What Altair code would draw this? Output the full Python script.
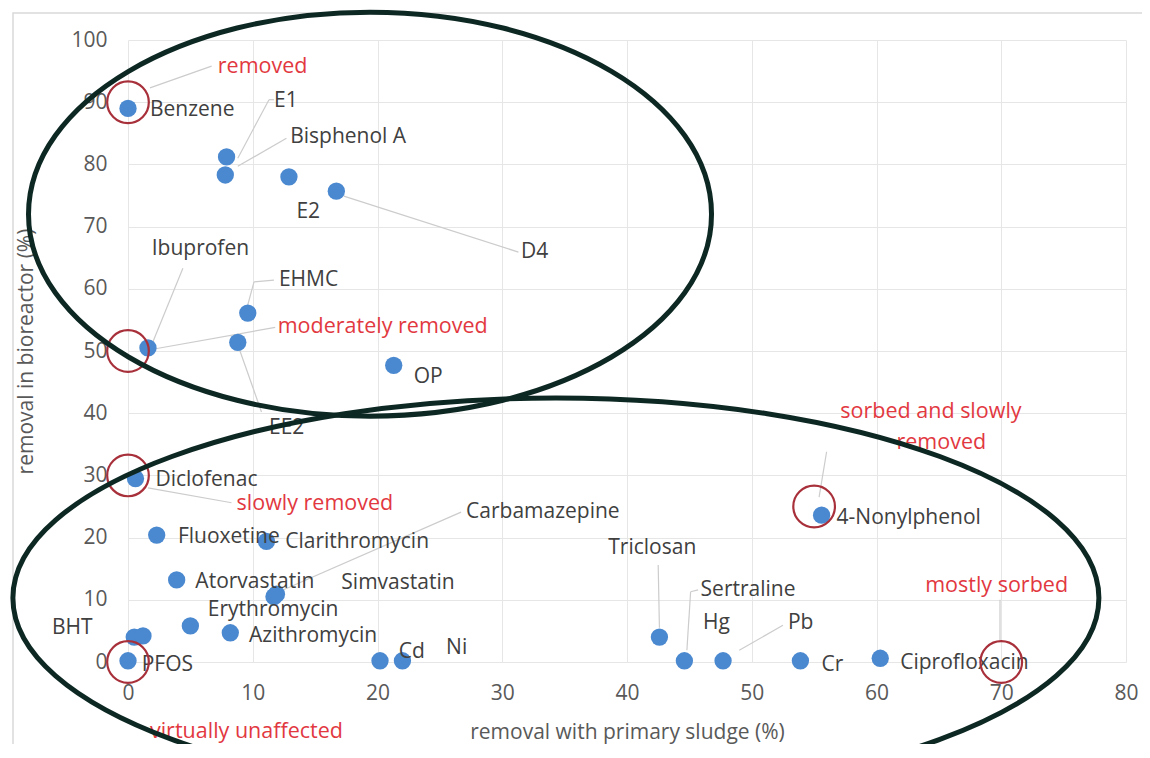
import altair as alt
import pandas as pd

# ---- data ----
point_names = ["Benzene", "E1", "Bisphenol A", "E2", "D4", "EHMC", "EE2", "Ibuprofen", "OP",
               "Diclofenac", "Fluoxetine", "Clarithromycin", "Atorvastatin", "Simvastatin",
               "Carbamazepine", "Erythromycin", "Azithromycin", "BHT", "BHT b", "PFOS", "Cd", "Ni",
               "Triclosan", "Sertraline", "Pb", "Cr", "Ciprofloxacin", "4-Nonylphenol"]
point_x = [0.0, 7.9, 7.8, 12.9, 16.7, 9.6, 8.8, 1.6, 21.3,
           0.6, 2.3, 11.1, 3.9, 11.7,
           11.9, 5.0, 8.2, 0.5, 1.2, 0.0, 20.2, 22.0,
           42.6, 44.6, 47.7, 53.9, 60.3, 55.6]
point_y = [89.0, 81.2, 78.3, 78.0, 75.7, 56.1, 51.4, 50.5, 47.7,
           29.5, 20.4, 19.4, 13.2, 10.5,
           10.9, 5.8, 4.7, 4.0, 4.2, 0.2, 0.2, 0.2,
           4.0, 0.2, 0.2, 0.2, 0.6, 23.6]

label_text = ["Benzene", "E1", "Bisphenol A", "E2", "D4", "Ibuprofen", "EHMC", "OP", "EE2",
              "Diclofenac", "Fluoxetine", "Clarithromycin", "Carbamazepine", "Atorvastatin",
              "Simvastatin", "Erythromycin", "Azithromycin", "BHT", "PFOS", "Cd", "Ni",
              "Triclosan", "Sertraline", "Hg", "Pb", "Cr", "Ciprofloxacin", "4-Nonylphenol"]
label_x = [1.76, 11.7, 13.0, 13.5, 31.5, 1.9, 12.1, 22.9, 11.3,
           2.2, 4.0, 12.6, 27.1, 5.4,
           17.1, 6.4, 9.7, -6.1, 1.1, 21.7, 25.5,
           38.5, 45.9, 46.1, 52.9, 55.6, 61.9, 56.8]
label_y = [88.7, 90.2, 84.4, 72.3, 65.9, 66.4, 61.4, 45.8, 37.6,
           29.3, 20.1, 19.3, 24.1, 12.9,
           12.7, 8.4, 4.2, 5.5, -0.5, 1.6, 2.3,
           18.3, 11.6, 6.3, 6.3, -0.5, -0.2, 23.2]

class_text = ["removed", "moderately removed", "slowly removed", "virtually unaffected",
              "sorbed and slowly", "removed", "mostly sorbed"]
class_x = [7.2, 12.0, 8.7, 1.76, 57.1, 61.6, 63.9]
class_y = [95.7, 53.9, 25.4, -11.3, 40.2, 35.2, 12.2]

ring_x = [0, 0, 0, 0, 55, 70]
ring_y = [90, 50, 30, 0, 25, 0]

lead_x1 = [1.76, 8.8, 11.3, 8.8, 17.3, 1.9, 9.6, 10.1, 1.76, 8.8, 1.6, 26.7, 55.4, 42.5, 44.8, 45.1, 49.0, 69.9]
lead_y1 = [92.3, 81.0, 90.4, 79.7, 74.9, 51.0, 57.4, 61.1, 50.2, 51.0, 28.0, 24.1, 26.5, 15.6, 1.9, 11.3, 1.9, 3.5]
lead_x2 = [6.7, 11.3, 11.7, 12.7, 31.3, 4.4, 10.1, 11.7, 11.8, 10.7, 8.3, 12.1, 56.0, 42.6, 45.1, 45.7, 52.5, 69.9]
lead_y2 = [95.8, 90.4, 90.4, 84.2, 65.9, 63.3, 61.1, 61.4, 53.8, 40.2, 25.6, 11.3, 33.8, 5.5, 11.3, 11.6, 5.9, 10.0]

group_x = [19.4, 34.3]
group_y = [72.0, 10.3]

x_ticks = [0, 10, 20, 30, 40, 50, 60, 70, 80]
y_ticks = [0, 10, 20, 30, 40, 50, 60, 70, 80, 90, 100]

# ---- tables ----
pts = pd.DataFrame({"name": point_names, "x": point_x, "y": point_y})
labs = pd.DataFrame({"t": label_text, "x": label_x, "y": label_y})
cls = pd.DataFrame({"t": class_text, "x": class_x, "y": class_y})
rings = pd.DataFrame({"x": ring_x, "y": ring_y})
leads = pd.DataFrame({"x": lead_x1, "y": lead_y1, "x2": lead_x2, "y2": lead_y2})
groups = pd.DataFrame({"x": group_x, "y": group_y})

FONT = "Open Sans"
PW, PH = 998, 622
xsc = alt.Scale(domain=[0, 80], nice=False, zero=False)
ysc = alt.Scale(domain=[0, 100], nice=False, zero=False)

xaxis = alt.Axis(values=x_ticks, title="removal with primary sludge (%)", grid=True,
                 gridColor="#e6e6e6", domain=False, ticks=False, labelFont=FONT,
                 labelFontSize=21, labelColor="#595959", labelPadding=31, labelBaseline="middle",
                 labelFlush=False, labelOverlap=False,
                 titleFont=FONT, titleFontSize=21, titleFontWeight="normal", titleColor="#595959",
                 titleY=70, titleBaseline="middle")
yaxis = alt.Axis(values=y_ticks, title="removal in bioreactor (%)", grid=True,
                 gridColor="#e6e6e6", domain=False, ticks=False, labelFont=FONT,
                 labelFontSize=21, labelColor="#595959", labelPadding=21,
                 labelFlush=False, labelOverlap=False,
                 titleFont=FONT, titleFontSize=21, titleFontWeight="normal", titleColor="#595959",
                 titleX=-102, titleY=311, titleAngle=-90, titleBaseline="middle", titleAlign="center")


def X():
    return alt.X("x:Q", scale=xsc, axis=xaxis)


def Y():
    return alt.Y("y:Q", scale=ysc, axis=yaxis)


def ellipse_path(ratio):
    k = 0.5523
    b = ratio
    return (f"M -1 0 C -1 {-k*b:.4f} {-k:.4f} {-b:.4f} 0 {-b:.4f} "
            f"C {k:.4f} {-b:.4f} 1 {-k*b:.4f} 1 0 "
            f"C 1 {k*b:.4f} {k:.4f} {b:.4f} 0 {b:.4f} "
            f"C {-k:.4f} {b:.4f} -1 {k*b:.4f} -1 0 Z")


frame = alt.Chart(pd.DataFrame({"a": [0]})).mark_rect(
    fill=None, stroke="#d9d9d9", strokeWidth=1.5
).encode(x=alt.value(-115), x2=alt.value(1030), y=alt.value(-27), y2=alt.value(707))

leaders = alt.Chart(leads).mark_rule(color="#cccccc", strokeWidth=1.2).encode(
    x=X(), y=Y(), x2="x2:Q", y2="y2:Q")

points = alt.Chart(pts).mark_circle(size=300, color="#4a88cf", opacity=1).encode(
    x=X(), y=Y(), tooltip=["name:N"])

labels = alt.Chart(labs).mark_text(align="left", baseline="middle", font=FONT, fontSize=21,
                                   color="#404040").encode(x=X(), y=Y(), text="t:N")

ring_layer = alt.Chart(rings).mark_point(shape="circle", filled=False, size=1735,
                                         stroke="#a8303a", strokeWidth=2.2, opacity=1).encode(
    x=X(), y=Y())

class_labels = alt.Chart(cls).mark_text(align="left", baseline="middle", font=FONT, fontSize=21.5,
                                        color="#e2383f").encode(x=X(), y=Y(), text="t:N")

upper = alt.Chart(groups.iloc[[0]]).mark_point(
    shape=ellipse_path(202 / 341.5), size=683 ** 2, filled=False, stroke="#0d2823",
    strokeWidth=5, opacity=1).encode(x=X(), y=Y())
lower = alt.Chart(groups.iloc[[1]]).mark_point(
    shape=ellipse_path(200 / 543), size=1086 ** 2, filled=False, stroke="#0d2823",
    strokeWidth=5, opacity=1).encode(x=X(), y=Y())

chart = alt.layer(leaders, frame, points, labels, ring_layer, class_labels, upper, lower).properties(
    width=PW, height=PH,
    padding={"left": 120, "top": 32, "right": 16, "bottom": 82},
    autosize=alt.AutoSizeParams(type="none"),
    background="white",
).configure_view(stroke=None)

chart.save("out.html", embed_options={"renderer": "svg", "actions": False})
